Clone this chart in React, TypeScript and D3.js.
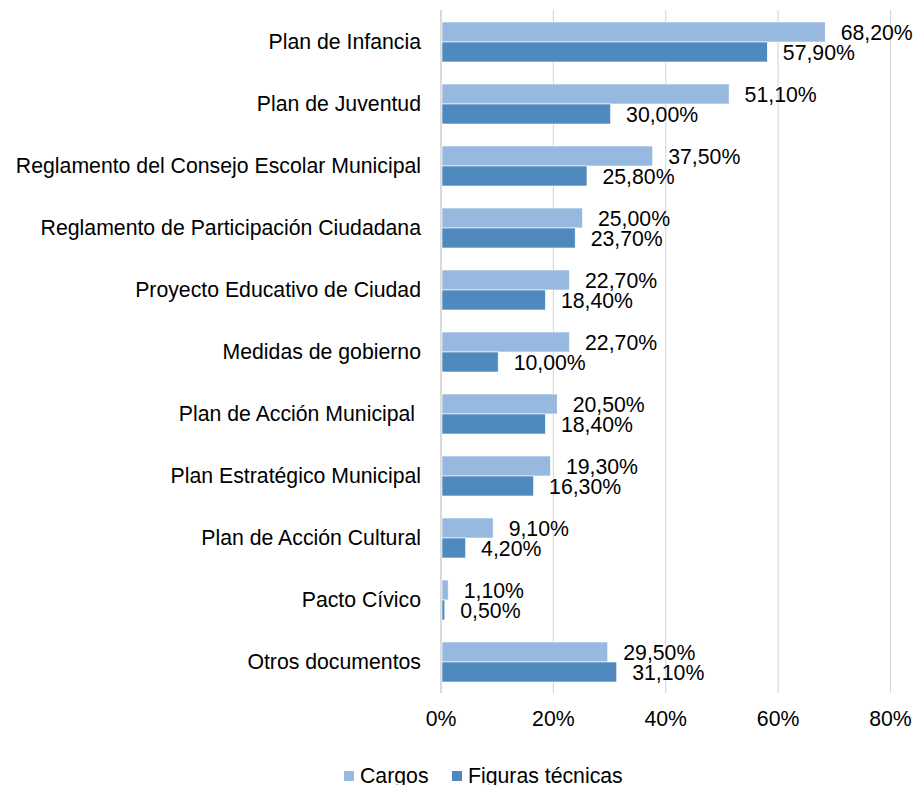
import React from "react";
import * as d3 from "d3";

const categories = [
  "Plan de Infancia",
  "Plan de Juventud",
  "Reglamento del Consejo Escolar Municipal",
  "Reglamento de Participación Ciudadana",
  "Proyecto Educativo de Ciudad",
  "Medidas de gobierno",
  "Plan de Acción Municipal ",
  "Plan Estratégico Municipal",
  "Plan de Acción Cultural",
  "Pacto Cívico",
  "Otros documentos",
];
const cargos = [68.2, 51.1, 37.5, 25.0, 22.7, 22.7, 20.5, 19.3, 9.1, 1.1, 29.5];
const figuras = [57.9, 30.0, 25.8, 23.7, 18.4, 10.0, 18.4, 16.3, 4.2, 0.5, 31.1];
const seriesNames = ["Cargos", "Figuras técnicas"];
const seriesColors = ["#97b9e0", "#4f89bd"];
const xTicks = [0, 20, 40, 60, 80];

const W = 916;
const H = 785;
const FONT = "'Liberation Sans', Arial, sans-serif";
const FS = 21.25;

export default function App() {
  const x = d3.scaleLinear().domain([0, 80]).range([441, 890.5]);
  const y = d3
    .scaleBand<string>()
    .domain(categories)
    .range([11, 693])
    .paddingInner(0.355)
    .paddingOuter(0.1775);
  const inner = d3
    .scaleBand<string>()
    .domain(seriesNames)
    .range([0, y.bandwidth()])
    .padding(0);
  const series = [cargos, figuras];
  const fmt = (v: number) => v.toFixed(2).replace(".", ",") + "%";

  return (
    <svg
      width={W}
      height={H}
      style={{ position: "absolute", left: 0, top: 0, background: "#fff" }}
      fontFamily={FONT}
    >
      {xTicks.map((t) => (
        <line
          key={"g" + t}
          x1={x(t)}
          x2={x(t)}
          y1={10}
          y2={693}
          stroke="#d9d9d9"
          strokeWidth={t === 0 ? 2 : 1.2}
        />
      ))}
      {categories.map((c, i) => (
        <g key={c}>
          {series.map((s, k) => {
            const yy = (y(c) as number) + (inner(seriesNames[k]) as number);
            const h = inner.bandwidth();
            return (
              <g key={k}>
                <rect
                  x={x(0) + 1}
                  y={yy}
                  width={Math.max(0, x(s[i]) - x(0))}
                  height={h}
                  fill={seriesColors[k]}
                  stroke="#ffffff"
                  strokeWidth={0.6}
                />
                <text
                  x={x(s[i]) + 16.5}
                  y={yy + h / 2 + 1}
                  dominantBaseline="central"
                  fontSize={FS}
                  fill="#000"
                >
                  {fmt(s[i])}
                </text>
              </g>
            );
          })}
          <text
            x={421}
            y={(y(c) as number) + y.bandwidth() / 2}
            textAnchor="end"
            dominantBaseline="central"
            fontSize={FS}
            fill="#000"
            style={{ whiteSpace: "pre" }}
          >
            {c}
          </text>
        </g>
      ))}
      {xTicks.map((t) => (
        <text
          key={"t" + t}
          x={x(t)}
          y={726}
          textAnchor="middle"
          fontSize={FS}
          fill="#000"
        >
          {t + "%"}
        </text>
      ))}
      {seriesNames.map((n, k) => {
        const lx = [344, 452][k];
        return (
          <g key={n}>
            <rect x={lx} y={771} width={10} height={10} fill={seriesColors[k]} />
            <text x={lx + 16} y={783} fontSize={FS} fill="#000">
              {n}
            </text>
          </g>
        );
      })}
    </svg>
  );
}
